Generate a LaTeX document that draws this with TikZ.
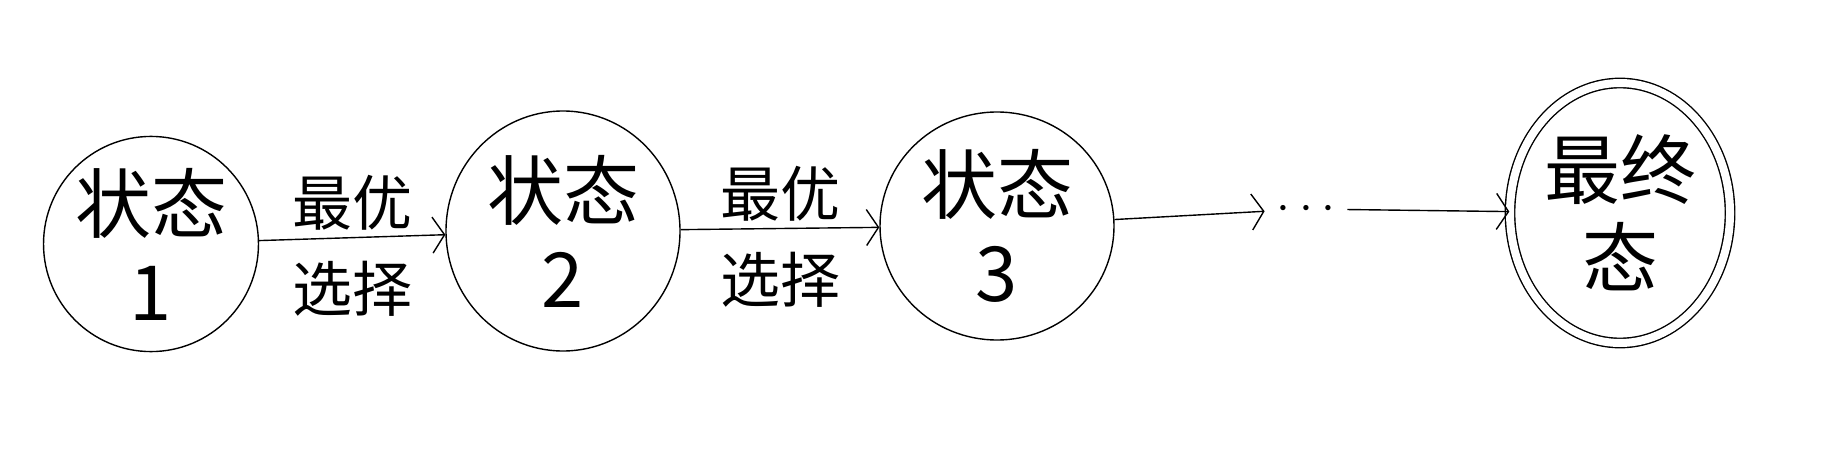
\documentclass[tikz,border=0pt]{standalone}
\usepackage{fontspec}
\newfontfamily\cjk{Noto Sans CJK SC}
\usetikzlibrary{shapes.geometric,arrows.meta}

\begin{document}
\begin{tikzpicture}[x=0.5pt,y=-0.5pt,
    state/.style={draw, ellipse, line width=0.7pt, align=center, inner sep=0pt,
        font=\cjk\fontsize{38}{44}\selectfont},
    final/.style={state, double, double distance=4pt},
    choice/.style={font=\cjk\fontsize{30}{34}\selectfont},
    go/.style={line width=0.7pt, -{Straight Barb[length=6pt,width=18pt]}}]
    \useasboundingbox (0,0) rectangle (1824,476);
    % states
    \node[state, minimum width=99pt, minimum height=107pt] (s1) at (151,244) {状态\\1};
    \node[state, minimum width=117pt, minimum height=120pt] (s2) at (563,231) {状态\\2};
    \node[state, minimum width=117pt, minimum height=114pt] (s3) at (997,226) {状态\\3};
    \node[inner sep=6pt, font=\fontsize{30}{34}\selectfont] (dots) at (1306,209) {$\cdots$};
    \node[final, minimum width=110pt, minimum height=130pt] (fin) at (1620,213) {最终\\态};
    % transitions
    \draw[go] (s1) -- (s2)
        node[choice, midway, above=0pt]{最优}
        node[choice, midway, below=8pt]{选择};
    \draw[go] (s2) -- (s3)
        node[choice, midway, above=0pt]{最优}
        node[choice, midway, below=8pt]{选择};
    \draw[go] (s3) -- (dots);
    \draw[go] (dots) -- (fin);
\end{tikzpicture}
\end{document}
